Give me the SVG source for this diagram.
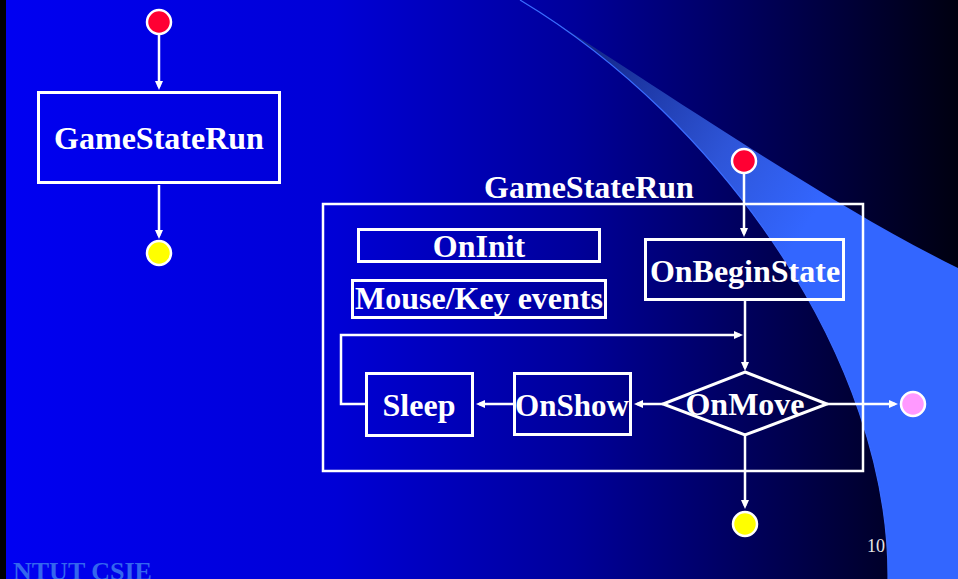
<svg xmlns="http://www.w3.org/2000/svg" width="958" height="579" viewBox="0 0 958 579">
  <defs>
    <linearGradient id="bg" x1="0" y1="0" x2="958" y2="0" gradientUnits="userSpaceOnUse">
      <stop offset="0" stop-color="#0000F2"/>
      <stop offset="0.35" stop-color="#0000D6"/>
      <stop offset="0.6" stop-color="#00009A"/>
      <stop offset="0.82" stop-color="#00004E"/>
      <stop offset="1" stop-color="#000010"/>
    </linearGradient>
    <linearGradient id="swoosh" x1="600" y1="40" x2="830" y2="190" gradientUnits="userSpaceOnUse">
      <stop offset="0" stop-color="#14288C"/>
      <stop offset="0.6" stop-color="#2E55D8"/>
      <stop offset="1" stop-color="#3366FF"/>
    </linearGradient>
    <marker id="arrow" markerUnits="userSpaceOnUse" viewBox="0 0 9 8" markerWidth="9" markerHeight="8" refX="6" refY="4" orient="auto">
      <path d="M0,0 L9,4 L0,8 Z" fill="#FFFFFF"/>
    </marker>
  </defs>
  <style>
    .box { fill: none; stroke: #FFFFFF; stroke-width: 3; }
    .frame { fill: none; stroke: #FFFFFF; stroke-width: 2.5; }
    .edge { fill: none; stroke: #FFFFFF; stroke-width: 2.5; marker-end: url(#arrow); }
    .plain { fill: none; stroke: #FFFFFF; stroke-width: 2.5; }
    .start { fill: #FF0033; stroke: #FFFFFF; stroke-width: 2.5; }
    .end { fill: #FFFF00; stroke: #FFFFFF; stroke-width: 2.5; }
    .exit { fill: #FF99FF; stroke: #FFFFFF; stroke-width: 2.5; }
    .label { font-family: "Liberation Serif", "Times New Roman", serif; font-weight: bold; font-size: 32px; fill: #FFFFFF; text-anchor: middle; }
  </style>

  <!-- slide background -->
  <rect x="0" y="0" width="958" height="579" fill="url(#bg)"/>
  <path d="M520,0 C640,75 820,200 958,268 L958,579 L888,579 C890,360 720,120 520,0 Z" fill="url(#swoosh)"/>
  <path d="M520,0 C720,120 890,360 888,579" fill="none" stroke="#3A6CFF" stroke-width="1.2"/>
  <rect x="0" y="0" width="6" height="579" fill="#000000"/>

  <!-- connectors -->
  <g id="connectors">
    <line class="edge" x1="159" y1="35" x2="159" y2="87"/>
    <line class="edge" x1="159" y1="185" x2="159" y2="236"/>
    <line class="edge" x1="744" y1="174" x2="744" y2="234"/>
    <line class="edge" x1="745" y1="301" x2="745" y2="368"/>
    <polyline class="edge" points="365,404 341,404 341,335 740,335"/>
    <line class="edge" x1="663" y1="404" x2="637" y2="404"/>
    <line class="edge" x1="513" y1="404" x2="479" y2="404"/>
    <line class="edge" x1="827" y1="404" x2="895" y2="404"/>
    <line class="edge" x1="745" y1="435" x2="745" y2="506"/>
  </g>

  <!-- left: top-level state -->
  <g id="start-top">
    <circle class="start" cx="159" cy="22" r="12"/>
  </g>
  <g id="game-state-run">
    <rect class="box" x="38.5" y="92.5" width="241" height="90"/>
    <text class="label" x="159" y="149">GameStateRun</text>
  </g>
  <g id="end-top">
    <circle class="end" cx="159" cy="253" r="12"/>
  </g>

  <!-- right: inside GameStateRun -->
  <g id="start-inner">
    <circle class="start" cx="744" cy="161" r="12"/>
  </g>
  <g id="game-state-run-frame">
    <text class="label" x="589" y="198">GameStateRun</text>
    <rect class="frame" x="323" y="204" width="540" height="267"/>
  </g>
  <g id="on-init">
    <rect class="box" x="358.5" y="229.5" width="241" height="32"/>
    <text class="label" x="479" y="257">OnInit</text>
  </g>
  <g id="mouse-key-events">
    <rect class="box" x="352.5" y="280.5" width="253" height="37"/>
    <text class="label" x="479" y="309">Mouse/Key events</text>
  </g>
  <g id="on-begin-state">
    <rect class="box" x="645.5" y="239.5" width="198" height="60"/>
    <text class="label" x="745" y="282">OnBeginState</text>
  </g>
  <g id="on-move">
    <polygon class="box" points="745,372 827,404 745,435 663,404"/>
    <text class="label" x="745" y="415">OnMove</text>
  </g>
  <g id="on-show">
    <rect class="box" x="514.5" y="373.5" width="116" height="61"/>
    <text class="label" x="572" y="416" textLength="114" lengthAdjust="spacingAndGlyphs">OnShow</text>
  </g>
  <g id="sleep">
    <rect class="box" x="366.5" y="373.5" width="106" height="62"/>
    <text class="label" x="419" y="416">Sleep</text>
  </g>
  <g id="exit-inner">
    <circle class="exit" cx="913" cy="404" r="12"/>
  </g>
  <g id="end-inner">
    <circle class="end" cx="745" cy="524" r="12"/>
  </g>

  <!-- footer -->
  <text x="876" y="552" font-family="'Liberation Serif', 'Times New Roman', serif" font-size="18" fill="#E6E6E6" text-anchor="middle">10</text>
  <text x="13" y="580" font-family="'Liberation Serif', 'Times New Roman', serif" font-weight="bold" font-size="26" fill="#3366EE">NTUT CSIE</text>
</svg>
